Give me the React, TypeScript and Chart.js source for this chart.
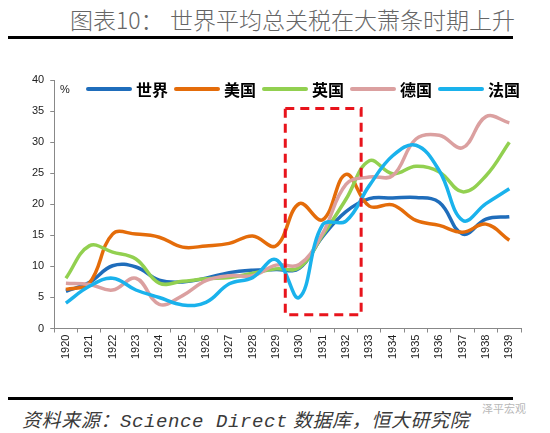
import { useEffect, useRef } from "react";
import { Chart, registerables } from "chart.js";

Chart.register(...registerables);

// ---- data ----
const years = [
  "1920", "1921", "1922", "1923", "1924", "1925", "1926", "1927", "1928", "1929",
  "1930", "1931", "1932", "1933", "1934", "1935", "1936", "1937", "1938", "1939",
];
const seriesNames = ["世界", "美国", "英国", "德国", "法国"];
const world = [6.0, 7.4, 10.1, 9.9, 7.8, 7.5, 8.1, 9.0, 9.4, 9.5, 9.7, 14.8, 18.8, 20.9, 21.0, 21.1, 20.3, 15.2, 17.6, 18.0];
const usa = [6.3, 7.3, 15.2, 15.2, 14.7, 13.1, 13.3, 13.7, 14.9, 13.3, 20.1, 17.5, 24.8, 19.7, 19.9, 17.4, 16.6, 15.5, 16.8, 14.2];
const uk = [8.1, 13.3, 12.3, 11.2, 7.3, 7.6, 8.0, 8.2, 8.9, 9.6, 9.8, 15.0, 20.8, 27.0, 24.9, 26.1, 25.2, 22.0, 24.6, 30.0];
const germany = [7.3, 7.1, 6.2, 8.1, 3.9, 5.3, 7.7, 8.5, 8.5, 10.2, 10.3, 15.3, 23.2, 24.4, 24.6, 30.5, 31.1, 29.1, 34.1, 33.1];
const france = [4.1, 6.8, 8.1, 6.2, 5.0, 3.8, 4.2, 7.2, 8.2, 11.1, 5.0, 16.7, 17.3, 23.0, 27.8, 29.5, 25.4, 17.4, 20.1, 22.5];
const yTicks = [0, 5, 10, 15, 20, 25, 30, 35, 40];
// highlight box (category index range and value range)
const boxCategoryRange = [9.4, 12.65];
const boxValueRange = [2.2, 35.4];

const colors = ["#1f6dbb", "#e46c0a", "#92d050", "#dba0a0", "#1ab2ec"];

export default function App() {
  const ref = useRef<HTMLCanvasElement>(null);

  useEffect(() => {
    const values = [world, usa, uk, germany, france];
    const boxPlugin = {
      id: "greatDepressionBox",
      afterDatasetsDraw(chart: any) {
        const { ctx, scales } = chart;
        const x0 = scales.x.getPixelForValue(boxCategoryRange[0]);
        const x1 = scales.x.getPixelForValue(boxCategoryRange[1]);
        const y0 = scales.y.getPixelForValue(boxValueRange[1]);
        const y1 = scales.y.getPixelForValue(boxValueRange[0]);
        ctx.save();
        ctx.strokeStyle = "#e8141c";
        ctx.lineWidth = 3;
        ctx.setLineDash([9, 6]);
        ctx.strokeRect(x0, y0, x1 - x0, y1 - y0);
        ctx.restore();
      },
    };

    const chart = new Chart(ref.current as HTMLCanvasElement, {
      type: "line",
      data: {
        labels: years,
        datasets: seriesNames.map((name, i) => ({
          label: name,
          data: values[i],
          borderColor: colors[i],
          backgroundColor: colors[i],
          borderWidth: 3.5,
          pointRadius: 0,
          tension: 0.4,
          fill: false,
          order: seriesNames.length - i,
        })),
      },
      options: {
        responsive: false,
        animation: false,
        layout: { padding: { left: 26, right: 29, top: 20, bottom: 0 } },
        plugins: {
          tooltip: { enabled: false },
          legend: { display: false },
        },
        scales: {
          x: {
            offset: true,
            grid: { display: true, drawOnChartArea: false, offset: true, tickLength: 4, color: "#888" },
            border: { color: "#888", width: 1 },
            ticks: {
              minRotation: 90,
              maxRotation: 90,
              autoSkip: false,
              padding: 2,
              color: "#222",
              font: { size: 11, family: "'Liberation Sans', Arial, sans-serif" },
            },
          },
          y: {
            min: 0,
            max: 40,
            afterBuildTicks: (s: any) => {
              s.ticks = yTicks.map((v) => ({ value: v }));
            },
            grid: { display: true, drawOnChartArea: false, tickLength: 4, color: "#888" },
            border: { color: "#888", width: 1 },
            ticks: {
              padding: 6,
              color: "#222",
              font: { size: 11, family: "'Liberation Sans', Arial, sans-serif" },
            },
          },
        },
      },
      plugins: [boxPlugin],
    } as any);
    return () => chart.destroy();
  }, []);

  const cjk = "'Noto Sans CJK SC', sans-serif";
  return (
    <div style={{ position: "fixed", left: 0, top: 0, width: 550, height: 433, background: "#fff", overflow: "hidden" }}>
      <div style={{ position: "absolute", left: 70, top: 4, fontFamily: cjk, fontSize: 23, color: "#666", fontWeight: 300, whiteSpace: "nowrap", lineHeight: "30px" }}>
        图表10：
      </div>
      <div style={{ position: "absolute", left: 170, top: 4, fontFamily: cjk, fontSize: 23, color: "#666", fontWeight: 300, whiteSpace: "nowrap", lineHeight: "30px" }}>
        世界平均总关税在大萧条时期上升
      </div>
      <div style={{ position: "absolute", left: 8, top: 36, width: 505, height: 3, background: "#000" }} />
      <canvas ref={ref} width={550} height={301} style={{ position: "absolute", left: 0, top: 60, width: 550, height: 301 }} />
      <div style={{ position: "absolute", left: 60, top: 83, fontFamily: "'Liberation Sans', Arial, sans-serif", fontSize: 11, color: "#222" }}>%</div>
      <div style={{ position: "absolute", left: 86, top: 79, height: 20, display: "flex", alignItems: "center", whiteSpace: "nowrap" }}>
        {seriesNames.map((name, i) => (
          <div key={name} style={{ display: "flex", alignItems: "center", marginRight: 6 }}>
            <div style={{ width: 46, height: 4, background: colors[i], borderRadius: 2 }} />
            <span style={{ marginLeft: 4, fontFamily: cjk, fontWeight: 700, fontSize: 16, color: "#000", lineHeight: "20px" }}>{name}</span>
          </div>
        ))}
      </div>
      <div style={{ position: "absolute", left: 8, top: 397, width: 505, height: 3, background: "#000" }} />
      <div style={{ position: "absolute", left: 22, top: 406, fontSize: 19, color: "#3a3a3a", fontStyle: "italic", whiteSpace: "nowrap", lineHeight: "26px", fontFamily: cjk, letterSpacing: 0.6 }}>
        资料来源：<span style={{ fontFamily: "'Liberation Mono', monospace" }}>Science Direct</span> 数据库，恒大研究院
      </div>
      <div style={{ position: "absolute", left: 482, top: 400, fontSize: 11, color: "#b8b8b8", fontFamily: cjk, whiteSpace: "nowrap" }}>泽平宏观</div>
    </div>
  );
}
